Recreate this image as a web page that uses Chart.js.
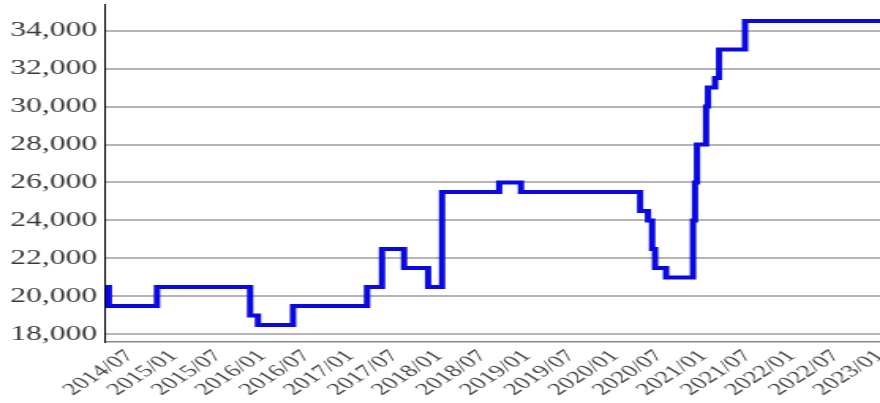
<!DOCTYPE html>
<html>
<head>
<meta charset="utf-8">
<script src="https://cdn.jsdelivr.net/npm/chart.js@4.4.1/dist/chart.umd.min.js"></script>
<style>
  html, body { margin: 0; padding: 0; background: #fff; overflow: hidden; }
  #wrap { width: 557px; height: 403px; transform: scaleX(1.58); transform-origin: 0 0; }
</style>
</head>
<body>
<div id="wrap"><canvas id="priceChart" width="557" height="403"></canvas></div>
<script>
// price history (each value holds until the next date)
const dates = [
    '2014-03-19', '2014-04-05', '2014-10-21', '2015-11-11', '2015-12-13',
    '2016-05-06', '2017-03-08', '2017-05-09', '2017-08-09', '2017-11-17',
    '2018-01-14', '2018-09-07', '2018-12-06', '2020-04-12', '2020-05-14',
    '2020-06-01', '2020-06-13', '2020-07-28', '2020-11-18', '2020-11-26',
    '2020-12-04', '2021-01-11', '2021-01-19', '2021-02-18', '2021-03-04',
    '2021-06-20', '2023-01-01'
];
const prices = [
    20500, 19500, 20500, 19000, 18500,
    19500, 20500, 22500, 21500, 20500,
    25500, 26000, 25500, 24500, 24000,
    22500, 21500, 21000, 24000, 26000,
    28000, 30000, 31000, 31500, 33000,
    34500, 34500
];
const tickLabels = [
    '2014/07', '2015/01', '2015/07', '2016/01', '2016/07', '2017/01',
    '2017/07', '2018/01', '2018/07', '2019/01', '2019/07', '2020/01',
    '2020/07', '2021/01', '2021/07', '2022/01', '2022/07', '2023/01'
];
const yTicks = [18000, 20000, 22000, 24000, 26000, 28000, 30000, 32000, 34000];

// months since 2014/01, fractional
function monthIndex(str) {
    const parts = str.split(/[-\/]/).map(Number);
    const day = parts[2] || 1;
    return (parts[0] - 2014) * 12 + (parts[1] - 1) + (day - 1) / 30;
}

const points = dates.map((d, i) => ({ x: monthIndex(d), y: prices[i] }));
const tickValues = tickLabels.map(monthIndex);
const stretch = 1.58;

Chart.defaults.font.family = "'Liberation Serif', serif";
Chart.defaults.font.size = 17;

const ctx = document.getElementById('priceChart').getContext('2d');

new Chart(ctx, {
    type: 'line',
    data: {
        datasets: [{
            data: points,
            borderColor: '#0a0ae0',
            borderWidth: 4,
            stepped: 'before',
            pointRadius: 0,
            fill: false,
            tension: 0
        }]
    },
    options: {
        responsive: false,
        animation: false,
        events: [],
        layout: { padding: { top: 4, left: 0, right: 0, bottom: 0 } },
        scales: {
            x: {
                type: 'linear',
                min: points[0].x,
                max: points[points.length - 1].x,
                grid: { display: false, drawTicks: false },
                border: { display: true, color: '#8a8a8a', width: 1.5 },
                afterBuildTicks: (axis) => {
                    axis.ticks = tickValues.map(v => ({ value: v }));
                },
                afterFit: (axis) => {
                    axis.height = 61;
                    axis.paddingLeft = 0;
                    axis.paddingRight = 0;
                },
                ticks: {
                    autoSkip: false,
                    minRotation: 45,
                    maxRotation: 45,
                    padding: 4,
                    color: '#444',
                    font: { size: 17 },
                    callback: (value) => {
                        const i = tickValues.findIndex(v => Math.abs(v - value) < 0.01);
                        return i >= 0 ? tickLabels[i] : '';
                    }
                }
            },
            y: {
                min: 17600,
                max: 35400,
                grid: { color: '#b4b4b4', lineWidth: 2, drawTicks: false },
                border: { display: true, color: '#000', width: 1 },
                afterBuildTicks: (axis) => {
                    axis.ticks = yTicks.map(v => ({ value: v }));
                },
                afterFit: (axis) => {
                    axis.width = 105 / stretch;
                    axis.paddingTop = 0;
                    axis.paddingBottom = 0;
                },
                ticks: {
                    padding: 5,
                    color: '#383838',
                    font: { size: 20 },
                    callback: (value) => value.toLocaleString('en-US')
                }
            }
        },
        plugins: {
            legend: { display: false },
            tooltip: { enabled: false }
        }
    }
});
</script>
</body>
</html>
